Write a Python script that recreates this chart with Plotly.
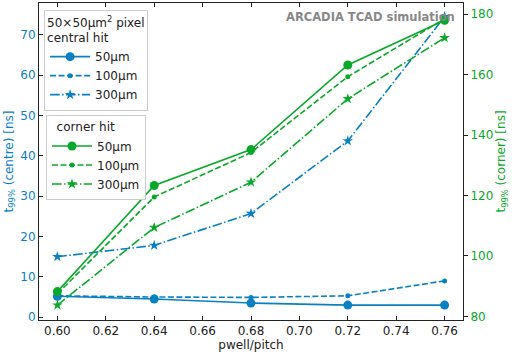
import plotly.graph_objects as go

pwell_pitch = [0.60, 0.64, 0.68, 0.72, 0.76]

centre_50 = [5.2, 4.5, 3.5, 3.0, 3.0]
centre_100 = [5.3, 5.0, 4.9, 5.3, 9.0]
centre_300 = [15.0, 17.8, 25.7, 43.7, 74.5]

corner_50 = [88.2, 123.3, 135.2, 163.2, 178.0]
corner_100 = [87.5, 119.5, 134.2, 159.3, 178.5]
corner_300 = [83.7, 109.4, 124.4, 152.0, 172.2]

labels = ["50µm", "100µm", "300µm"]

BLUE = "#0a80c4"
GREEN = "#0aa82a"
FONT = "DejaVu Sans"

dash_d = "6px,2.5px"
dash_dd = "9.6px,2.4px,1.5px,2.4px"

fig = go.Figure()

styles = [
    (dict(symbol="circle", size=9), "solid"),
    (dict(symbol="circle", size=5), dash_d),
    (dict(symbol="star", size=8), dash_dd),
]

for vals, lab, (mk, dash) in zip([centre_50, centre_100, centre_300], labels, styles):
    fig.add_trace(go.Scatter(
        x=pwell_pitch, y=vals, name=lab, mode="lines+markers",
        line=dict(color=BLUE, width=1.6, dash=dash),
        marker=dict(color=BLUE, **mk), legend="legend", yaxis="y"))

for vals, lab, (mk, dash) in zip([corner_50, corner_100, corner_300], labels, styles):
    fig.add_trace(go.Scatter(
        x=pwell_pitch, y=vals, name=lab, mode="lines+markers",
        line=dict(color=GREEN, width=1.6, dash=dash),
        marker=dict(color=GREEN, **mk), legend="legend2", yaxis="y2"))

axis_common = dict(showgrid=False, zeroline=False, showline=True, linecolor="#222",
                   linewidth=1, ticklen=4, tickwidth=1, automargin=False)

fig.update_layout(
    width=512, height=354,
    margin=dict(l=39, r=49, t=3, b=34),
    paper_bgcolor="white", plot_bgcolor="white",
    font=dict(family=FONT, size=12, color="#222"),
    showlegend=True,
    xaxis=dict(range=[0.5924, 0.7676], tickvals=[0.60, 0.62, 0.64, 0.66, 0.68, 0.70, 0.72, 0.74, 0.76],
               tickformat=".2f", ticks="inside", mirror="ticks", tickcolor="#222",
               title=dict(text="pwell/pitch", font=dict(size=12), standoff=2), **axis_common),
    yaxis=dict(range=[-0.7, 77.9], tickvals=[0, 10, 20, 30, 40, 50, 60, 70], ticks="inside",
               tickcolor="#222", tickfont=dict(color=BLUE, size=12),
               title=dict(text="t<sub>99%</sub> (centre) [ns]", font=dict(color=BLUE, size=12), standoff=4),
               **axis_common),
    yaxis2=dict(range=[78.8, 183.7], tickvals=[80, 100, 120, 140, 160, 180], ticks="outside",
                overlaying="y", side="right", anchor="x", tickcolor="#222",
                tickfont=dict(color=GREEN, size=12),
                title=dict(text="t<sub>99%</sub> (corner) [ns]", font=dict(color=GREEN, size=12), standoff=4),
                **axis_common),
    legend=dict(x=0.012, y=0.978, xanchor="left", yanchor="top",
                bgcolor="rgba(255,255,255,0.9)", bordercolor="#ccc", borderwidth=1,
                font=dict(size=12, color="#222"), tracegroupgap=0, itemwidth=40,
                title=dict(text="50×50µm<sup>2</sup> pixel<br>central hit", font=dict(size=12))),
    legend2=dict(x=0.0165, y=0.647, xanchor="left", yanchor="top",
                 bgcolor="rgba(255,255,255,0.9)", bordercolor="#ccc", borderwidth=1,
                 font=dict(size=12, color="#222"), tracegroupgap=0, itemwidth=40,
                 title=dict(text="  corner hit", font=dict(size=12))),
    annotations=[dict(text="<b>ARCADIA TCAD simulation</b>", x=0.985, y=0.985,
                      xref="paper", yref="paper", xanchor="right", yanchor="top",
                      showarrow=False, font=dict(size=11.5, color="#888"))],
)

fig.write_html("out.html", config={"displayModeBar": False},
               post_script="document.body.style.margin='0';")
